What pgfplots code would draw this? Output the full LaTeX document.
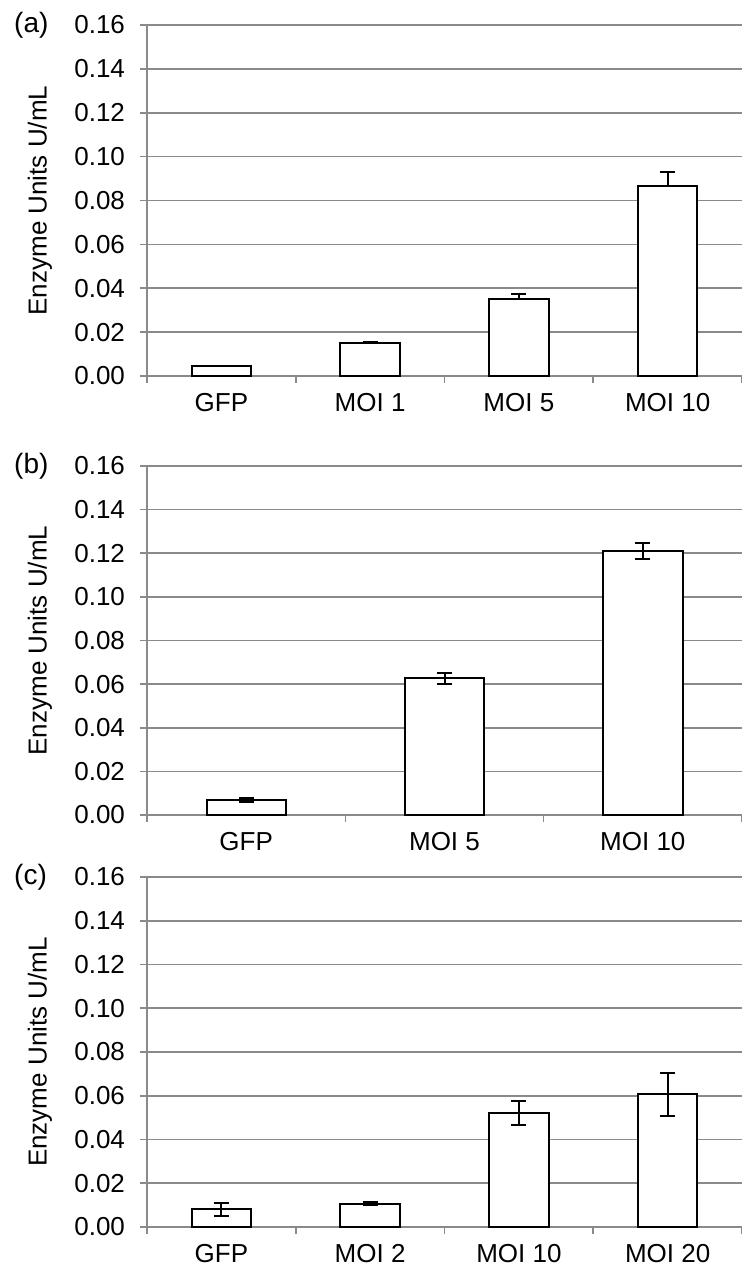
\documentclass[border=0pt]{standalone}
\usepackage{fontspec}
\setmainfont{Liberation Sans}
\usepackage{pgfplots}
\pgfplotsset{compat=1.18}

\definecolor{gridgray}{HTML}{8A8A8A}

\pgfplotsset{
  enz/.style={
    scale only axis,
    width=297.5pt,
    anchor=south west,
    ybar,
    bar width=0.4,
    ymin=0, ymax=0.16,
    ytick={0,0.02,...,0.16},
    yticklabel style={xshift=-4pt, /pgf/number format/.cd, fixed, fixed zerofill, precision=2, assume math mode=true},
    ymajorgrids,
    grid style={draw=gridgray, line width=0.8pt},
    axis x line*=bottom,
    axis y line*=left,
    axis line style={draw=gridgray, line width=0.8pt},
    tick style={draw=gridgray, line width=0.8pt},
    tick align=outside,
    major tick length=3.5pt,
    xticklabels={},
    tick label style={font=\fontsize{13}{15}\selectfont},
    extra x tick style={major tick length=0pt, grid=none, xticklabel style={yshift=-5pt}},
    ylabel={Enzyme Units U/mL},
    ylabel style={font=\fontsize{13}{15}\selectfont, at={(axis description cs:-0.18,0.5)}, anchor=center},
    clip=false,
  },
  bars/.style={draw=black, fill=white, line width=1pt,
    error bars/y explicit,
    error bars/error bar style={line width=1pt, black},
    error bars/error mark options={rotate=90, mark size=3.75pt, line width=1pt, black}},
}

\begin{document}
\begin{tikzpicture}
\path[use as bounding box] (0,0) rectangle (371pt,636pt);

% (a)
\begin{axis}[enz, at={(73.5pt,448pt)}, height=175.5pt,
  xmin=0.5, xmax=4.5, xtick={0.5,1.5,2.5,3.5,4.5},
  extra x ticks={1,2,3,4}, extra x tick labels={GFP,MOI 1,MOI 5,MOI 10}]
\addplot[bars, error bars/y dir=plus] coordinates {
  (1,0.0044) +- (0,0.0002)
  (2,0.0152) +- (0,0.0002)
  (3,0.0351) +- (0,0.0022)
  (4,0.0866) +- (0,0.0064)};
\node[anchor=west, font=\fontsize{14}{16}\selectfont] at (axis description cs:-0.235,1) {(a)};
\end{axis}

% (b)
\begin{axis}[enz, at={(73.5pt,228.5pt)}, height=174.5pt,
  xmin=0.5, xmax=3.5, xtick={0.5,1.5,2.5,3.5},
  extra x ticks={1,2,3}, extra x tick labels={GFP,MOI 5,MOI 10}]
\addplot[bars, error bars/y dir=both] coordinates {
  (1,0.0068) +- (0,0.0009)
  (2,0.0626) +- (0,0.0026)
  (3,0.1211) +- (0,0.0037)};
\node[anchor=west, font=\fontsize{14}{16}\selectfont] at (axis description cs:-0.235,1) {(b)};
\end{axis}

% (c)
\begin{axis}[enz, at={(73.5pt,22.5pt)}, height=175pt,
  xmin=0.5, xmax=4.5, xtick={0.5,1.5,2.5,3.5,4.5},
  extra x ticks={1,2,3,4}, extra x tick labels={GFP,MOI 2,MOI 10,MOI 20}]
\addplot[bars, error bars/y dir=both] coordinates {
  (1,0.0081) +- (0,0.0030)
  (2,0.0107) +- (0,0.0005)
  (3,0.0521) +- (0,0.0053)
  (4,0.0606) +- (0,0.0098)};
\node[anchor=west, font=\fontsize{14}{16}\selectfont] at (axis description cs:-0.235,1) {(c)};
\end{axis}
\end{tikzpicture}
\end{document}
